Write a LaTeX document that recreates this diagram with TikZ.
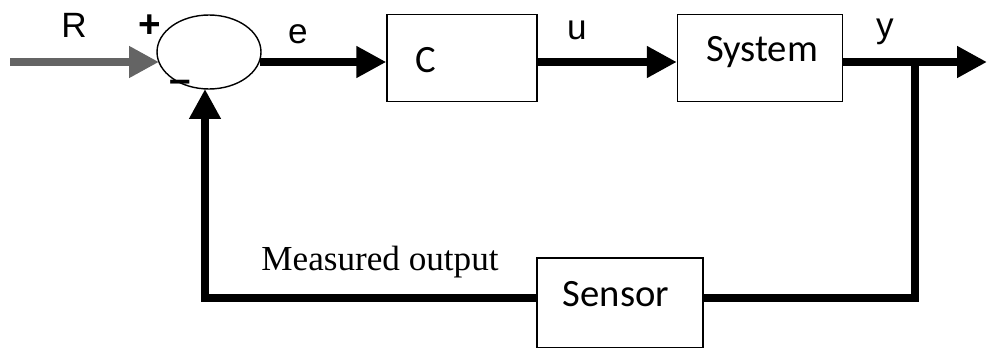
\documentclass[tikz,border=0pt]{standalone}
\usepackage{fontspec}
\setmainfont{Liberation Sans}
\newfontfamily\boxfont{Carlito}
\newfontfamily\serifont{Liberation Serif}
\usepackage{xcolor}
\definecolor{gray3}{RGB}{100,100,100}
\usetikzlibrary{arrows.meta, shapes.geometric}

\tikzset{
  blockbox/.style={draw, line width=0.8pt, minimum height=1.74cm, font=\boxfont\fontsize{22}{22}\selectfont},
  sig/.style={line width=4.5pt, -{Triangle[length=17pt, width=17pt]}},
  wire/.style={line width=4.5pt},
  lbl/.style={font=\fontsize{20}{20}\selectfont}
}

\begin{document}
\begin{tikzpicture}[x=0.02cm, y=-0.02cm]
  \useasboundingbox (0,0) rectangle (987,348);

  % Blocks
  \node[draw, ellipse, line width=0.8pt, minimum width=2.08cm, minimum height=1.48cm] (sum) at (209,52) {};
  \node[blockbox, minimum width=3.0cm] (ctrl) at (462,58) {};
  \node[font=\boxfont\fontsize{22}{22}\selectfont] (clbl) at (426,60) {C};
  \node[blockbox, minimum width=3.3cm] (sys) at (760,58) {};
  \node[font=\boxfont\fontsize{22}{22}\selectfont] (syslbl) at (762,52) {System};
  \node[blockbox, minimum width=3.32cm, minimum height=1.8cm] (sens) at (620,303) {};
  \node[font=\boxfont\fontsize{22}{22}\selectfont] (senslbl) at (616,294) {Sensor};

  % Points
  \coordinate (in) at (10,62);
  \coordinate (sumL) at (159,62);
  \coordinate (sumR) at (260,62);
  \coordinate (branch) at (915,62);
  \coordinate (out) at (987,62);
  \coordinate (fbR) at (915,298);
  \coordinate (fbL) at (205,298);
  \coordinate (sumB) at (205,89);

  % Forward path
  \draw[sig, gray3] (in) -- (sumL);
  \draw[sig] (sumR) -- (sumR -| ctrl.west);
  \draw[sig] (sumR -| ctrl.east) -- (sumR -| sys.west);
  \draw[sig] (sumR -| sys.east) -- (out);

  % Feedback path
  \draw[wire] (branch) -- (fbR) -- (fbR -| sens.east);
  \draw[sig] (fbL -| sens.west) -- (fbL) -- (sumB);

  % Labels
  \node[lbl] (rlbl) at (74,25) {R};
  \node[font=\bfseries\fontsize{22}{22}\selectfont] (plus) at (150,26) {+};
  \node[font=\bfseries\fontsize{22}{22}\selectfont] (minus) at (180,86) {\textendash};
  \node[lbl] (elbl) at (298,34) {e};
  \node[lbl] (ulbl) at (577,30) {u};
  \node[lbl] (ylbl) at (885,32) {y};
  \node[font=\serifont\fontsize{20}{20}\selectfont] (mlbl) at (380,262) {Measured output};
\end{tikzpicture}
\end{document}
